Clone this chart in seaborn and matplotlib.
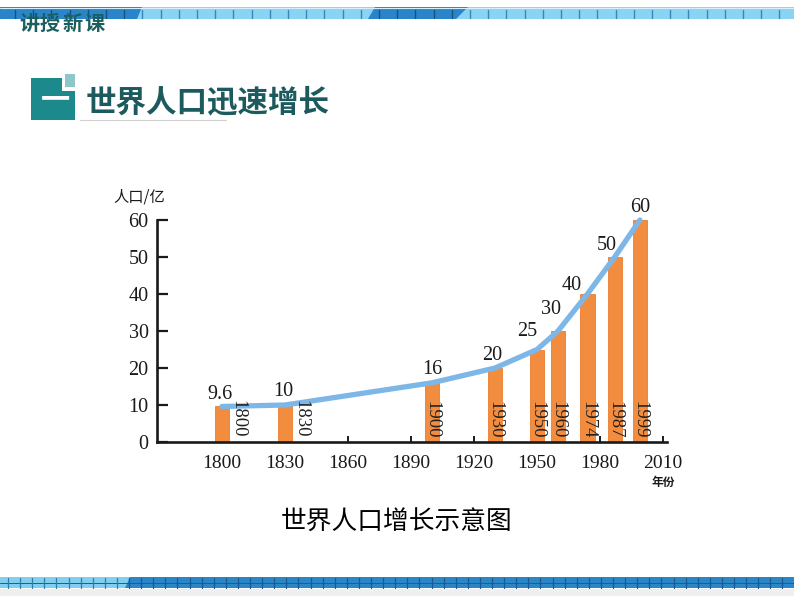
import matplotlib
matplotlib.use("Agg")
import numpy as np
import pandas as pd
import matplotlib.pyplot as plt
import seaborn as sns
from matplotlib.patches import Rectangle, Polygon

# ---------------- data ----------------
years = [1800, 1830, 1900, 1930, 1950, 1960, 1974, 1987, 1999]
population = [9.6, 10, 16, 20, 25, 30, 40, 50, 60]
value_labels = ["9.6", "10", "16", "20", "25", "30", "40", "50", "60"]
year_labels = ["1800", "1830", "1900", "1930", "1950", "1960", "1974", "1987", "1999"]
x_ticks = [1800, 1830, 1860, 1890, 1920, 1950, 1980, 2010]
y_ticks = [0, 10, 20, 30, 40, 50, 60]

header_chars = ["讲", "授", "新", "课"]
title_text = "世界人口迅速增长"
caption_text = "世界人口增长示意图"
y_unit = "人口/亿"
x_unit = "年份"

# ---------------- layout (pixels) ----------------
W, H = 794, 596
header_x = [29, 50, 73, 94]
# label offsets in pixels (dx, dy) relative to bar top
val_dx = [-2, -2, 0, -3, -10, -7, -16, -8, 0]
val_dy = [12, 13, 13, 13, 18, 21, 9, 11, 13]
# year label offsets relative to bar base
yr_dx = [16, 16, 0, 0, 0, 0, 0, 0, 0]
yr_dy = [23, 23, 22, 22, 22, 22, 22, 22, 22]

sns.set_theme(style="white")
SERIF = ["Liberation Serif", "DejaVu Serif"]
CJK = ["Noto Sans CJK SC", "DejaVu Sans"]
plt.rcParams["font.family"] = CJK

fig = plt.figure(figsize=(W / 100, H / 100), dpi=100)
fig.patch.set_facecolor("white")

# background decoration axes in pixel coordinates
bg = fig.add_axes([0, 0, 1, 1])
bg.set_xlim(0, W)
bg.set_ylim(H, 0)
bg.axis("off")

# --- top banner ---
LIGHT = "#8ad3f3"
DARK = "#2a84c9"
bg.add_patch(Rectangle((0, 7), W, 12, facecolor=LIGHT, edgecolor="none"))
bg.add_patch(Polygon([(0, 7), (142, 7), (137, 19), (0, 19)], closed=True,
                     facecolor=DARK, edgecolor="none"))
bg.add_patch(Polygon([(375, 7), (468, 7), (456, 19), (368, 19)], closed=True,
                     facecolor=DARK, edgecolor="none"))
bg.plot([0, W], [7.5, 7.5], color="#d6f0fb", lw=0.8)
for xt in np.arange(15, W, 18.2):
    in_dark = xt < 140 or (370 < xt < 462)
    bg.plot([xt, xt], [9.5, 17.5], color="#16507f" if in_dark else "#3a86b8", lw=1.0)

for ch, hx in zip(header_chars, header_x):
    bg.text(hx, 23.5, ch, fontsize=14.5, fontweight="bold", color="#1b5e5e",
            ha="center", va="center", family=CJK)

# --- title block ---
TEAL = "#1c8a8c"
bg.add_patch(Rectangle((31, 78), 44, 42, facecolor=TEAL, edgecolor="none"))
bg.add_patch(Rectangle((62, 72), 16, 19, facecolor="white", edgecolor="none"))
bg.add_patch(Rectangle((65, 74), 10, 13, facecolor="#8ec7c9", edgecolor="none"))
bg.text(55, 99, "一", fontsize=21, fontweight="bold", color="white",
        ha="center", va="center", family=CJK)
bg.text(86, 102, title_text, fontsize=22, fontweight="bold", color="#1d5a5d",
        ha="left", va="center", family=CJK)
bg.plot([80, 226], [119.5, 119.5], color="#d0d0d0", lw=0.8)

# --- bottom banner ---
bg.add_patch(Rectangle((0, 589), W, 7, facecolor="#efefef", edgecolor="none"))
bg.add_patch(Rectangle((0, 577), W, 11, facecolor="#2b86c8", edgecolor="none"))
bg.add_patch(Polygon([(0, 577), (130, 577), (125, 588), (0, 588)], closed=True,
                     facecolor="#80cff0", edgecolor="none"))
bg.plot([0, W], [583, 583], color="#1a5f90", lw=0.7)
for xt in np.arange(8, W, 12.1):
    bg.plot([xt, xt], [578, 587.5], color="#2f7fa6" if xt < 127 else "#175a8e", lw=0.9)

# --- caption ---
bg.text(397, 523, caption_text, fontsize=18.5, color="black",
        ha="center", va="center", family=CJK)

# ---------------- main chart ----------------
ax_left, ax_right, ax_top, ax_bottom = 157, 667, 220, 442
ax = fig.add_axes([ax_left / W, (H - ax_bottom) / H,
                   (ax_right - ax_left) / W, (ax_bottom - ax_top) / H])
ax.set_facecolor("none")

df = pd.DataFrame({"year": years, "population": population})
sns.barplot(data=df, x="year", y="population", native_scale=True, width=0.68,
            color="#f28c3e", saturation=1, errorbar=None, ax=ax, zorder=2)
for p in ax.patches:
    p.set_edgecolor("#e97d30")
    p.set_linewidth(0.6)

sns.lineplot(data=df, x="year", y="population", color="#7db7e8", linewidth=3.8,
             ax=ax, zorder=3, clip_on=False, solid_capstyle="round",
             solid_joinstyle="round")

ax.set_xlim(1769.05, 2011.9)
ax.set_ylim(0, 60)
ax.set_xticks(x_ticks)
ax.set_xticklabels([str(t) for t in x_ticks])
ax.set_yticks(y_ticks)
ax.set_yticklabels([str(t) for t in y_ticks])
ax.set_xlabel("")
ax.set_ylabel("")

for s in ["top", "right"]:
    ax.spines[s].set_visible(False)
for s in ["left", "bottom"]:
    ax.spines[s].set_color("#1a1a1a")
    ax.spines[s].set_linewidth(1.9)
    ax.spines[s].set_zorder(4)

ax.tick_params(axis="y", direction="in", length=8, width=1.6, color="#1a1a1a",
               pad=6, labelsize=14.5, labelcolor="#1a1a1a", left=True)
ax.tick_params(axis="x", direction="in", length=4.5, width=1.4, color="#1a1a1a",
               pad=9, labelsize=14, labelcolor="#1a1a1a", bottom=True)
for lab in ax.get_xticklabels() + ax.get_yticklabels():
    lab.set_family(SERIF)

# value labels above bars
for i, (yr, v, lab) in enumerate(zip(years, population, value_labels)):
    ax.annotate(lab, xy=(yr, v), xytext=(val_dx[i] * 0.72, val_dy[i] * 0.72),
                textcoords="offset points", ha="center", va="center",
                fontsize=14.5, family=SERIF, color="#1a1a1a", annotation_clip=False,
                zorder=5)

# year labels inside / beside bars
for i, (yr, lab) in enumerate(zip(years, year_labels)):
    ax.annotate(lab, xy=(yr, 0), xytext=(yr_dx[i] * 0.72, yr_dy[i] * 0.72),
                textcoords="offset points", ha="center", va="center",
                rotation=-90, fontsize=13.5, family=SERIF, color="#222222",
                annotation_clip=False, zorder=5)

# axis units
bg.text(139, 197, y_unit, fontsize=11, color="#1a1a1a", ha="center", va="center",
        family=CJK)
bg.text(663, 482, x_unit, fontsize=8.5, fontweight="bold", color="#1a1a1a",
        ha="center", va="center", family=CJK)

fig.savefig("out.png", dpi=100, facecolor="white")
